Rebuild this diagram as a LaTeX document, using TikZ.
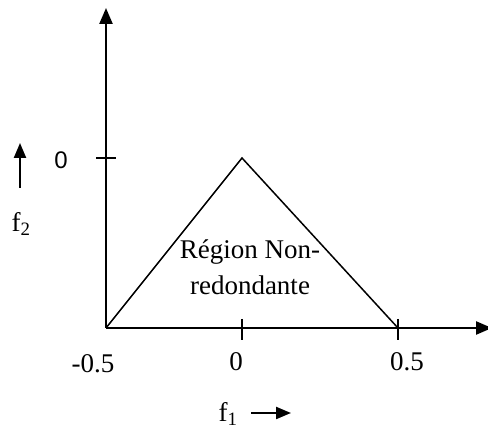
\documentclass[tikz,border=0pt]{standalone}
\usepackage{fontspec}
\setmainfont{Liberation Serif}
\newfontfamily\labelsans{Liberation Sans}
\usetikzlibrary{arrows.meta}
\begin{document}
\begin{tikzpicture}[
    x=1pt, y=-1pt,
    axis/.style={line width=2.4pt, -{Triangle[length=16pt,width=13pt]}},
    tri/.style={line width=1.5pt, line join=miter},
    tick/.style={line width=1.3pt},
    lbl/.style={inner sep=0pt, font=\fontsize{27}{36}\selectfont},
    hint/.style={line width=2.2pt, -{Triangle[length=15pt,width=12pt]}}
]
    \useasboundingbox (0,0) rectangle (488,430);

    % axes
    \coordinate (O) at (106,328);
    \coordinate (Ytop) at (106,8);
    \coordinate (Xend) at (492,328);
    \draw[axis] (O) -- (Ytop);
    \draw[axis] (O) -- (Xend);

    % triangle
    \coordinate (apex) at (242,158);
    \coordinate (foot) at (398,328);
    \draw[tri] (O) -- (apex) -- (foot);

    % ticks
    \coordinate (ty) at (106,158);
    \draw[tick] ([xshift=-10pt]ty) -- ([xshift=10pt]ty);
    \draw[tick] (242,319) -- (242,340);
    \draw[tick] (398,319) -- (398,340);

    % labels
    \node[lbl, font=\labelsans\fontsize{24}{28}\selectfont] (yzero) at (61,160) {0};
    \node[lbl] (xm) at (93,364) {-0.5};
    \node[lbl] (xzero) at (236,362) {0};
    \node[lbl] (xhalf) at (407,362) {0.5};
    \node[lbl, align=center] (region) at (250,267) {Région Non-\\redondante};

    % axis names
    \node[lbl] (f1) at (228,414) {f\textsubscript{1}};
    \coordinate (a1) at (251,413);
    \coordinate (b1) at (291,413);
    \draw[hint] (a1) -- (b1);
    \node[lbl] (f2) at (21,224) {f\textsubscript{2}};
    \coordinate (a2) at (20,188);
    \coordinate (b2) at (20,143);
    \draw[hint] (a2) -- (b2);
\end{tikzpicture}
\end{document}
